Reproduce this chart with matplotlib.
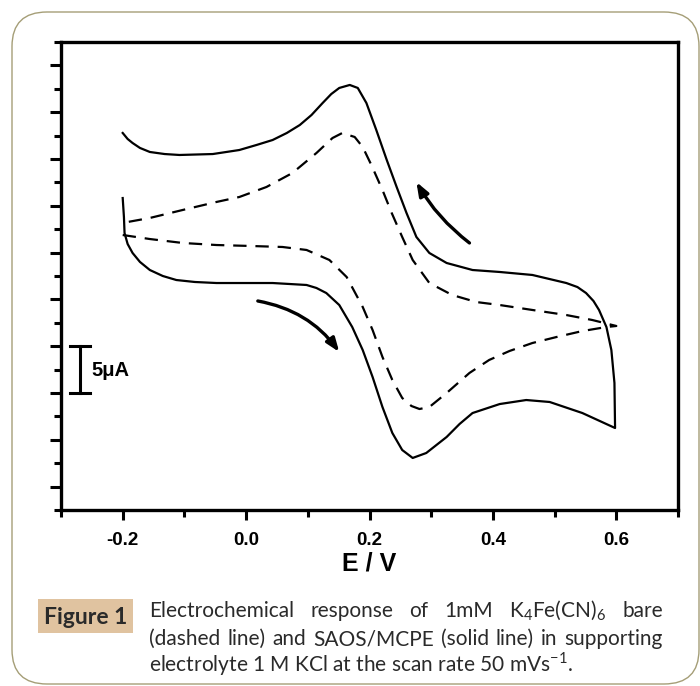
import matplotlib
matplotlib.use('Agg')
import matplotlib.pyplot as plt
from matplotlib.patches import FancyBboxPatch, FancyArrowPatch, Rectangle
from matplotlib.ticker import MultipleLocator

plt.rcParams['font.family'] = 'Liberation Sans'

# SAOS/MCPE (solid line): forward branch then reverse branch
E_solid = [-0.200, -0.198, -0.197, -0.192, -0.184, -0.172, -0.156, -0.135, -0.113, -0.083,
           -0.048, -0.011, 0.043, 0.098, 0.114, 0.130, 0.151, 0.172, 0.189, 0.205,
           0.221, 0.237, 0.253, 0.270, 0.292, 0.325, 0.346, 0.367, 0.411, 0.454,
           0.492, 0.545, 0.598,
           0.597, 0.592, 0.584, 0.572, 0.563, 0.551, 0.537, 0.519, 0.464, 0.411,
           0.367, 0.325, 0.297, 0.276, 0.260, 0.244, 0.228, 0.211, 0.195, 0.181,
           0.168, 0.151, 0.138, 0.124, 0.106, 0.087, 0.066, 0.043, 0.017, -0.011,
           -0.054, -0.108, -0.132, -0.156, -0.172, -0.184, -0.192, -0.200]
I_solid = [5.83, 3.80, 2.09, 0.92, -0.04, -1.00, -1.86, -2.50, -2.93, -3.14,
           -3.25, -3.25, -3.25, -3.46, -3.78, -4.32, -5.60, -7.95, -10.41, -13.29,
           -16.5, -19.27, -21.09, -21.94, -21.41, -19.70, -18.31, -17.14, -16.18, -15.75,
           -15.96, -17.14, -18.74,
           -13.93, -10.41, -7.95, -6.13, -5.17, -4.32, -3.68, -3.25, -2.39, -2.07,
           -1.86, -1.11, -0.04, 1.67, 4.23, 7.01, 9.89, 13.10, 15.98, 17.59,
           17.91, 17.59, 16.94, 15.98, 14.70, 13.63, 12.78, 12.03, 11.50, 10.96,
           10.53, 10.43, 10.53, 10.75, 11.18, 11.71, 12.14, 12.78]

# bare electrode (dashed line)
E_bare_fwd = [-0.200, -0.156, -0.103, -0.048, 0.006, 0.059, 0.098, 0.135, 0.163, 0.189,
              0.205, 0.221, 0.237, 0.253, 0.268, 0.281, 0.297, 0.325, 0.362, 0.394,
              0.427, 0.464, 0.503, 0.545, 0.584, 0.600]
I_bare_fwd = [1.88, 1.45, 1.03, 0.81, 0.71, 0.60, 0.28, -0.79, -2.61, -5.81,
              -8.27, -11.15, -13.61, -15.53, -16.39, -16.71, -16.5, -15.0, -12.86, -11.47,
              -10.51, -9.66, -9.02, -8.38, -7.95, -7.84]
E_bare_rev = [0.561, 0.519, 0.464, 0.411, 0.373, 0.334, 0.297, 0.270, 0.253, 0.236,
              0.221, 0.203, 0.189, 0.176, 0.156, 0.140, 0.114, 0.075, 0.033, -0.011,
              -0.048, -0.103, -0.156, -0.192]
I_bare_rev = [-7.20, -6.67, -6.13, -5.60, -5.28, -4.53, -3.25, -0.79, 1.67, 4.23,
              6.69, 9.36, 11.28, 12.35, 12.78, 12.24, 10.64, 8.50, 7.01, 5.94,
              5.41, 4.55, 3.70, 3.27]

# scan direction arrows (tail, head)
arrow_fwd = ((0.019, -5.17), (0.151, -10.62))
arrow_rev = ((0.362, 1.03), (0.276, 7.54))

xticks = [-0.2, 0.0, 0.2, 0.4, 0.6]
xticklabels = ['-0.2', '0.0', '0.2', '0.4', '0.6']

caption1 = ['Electrochemical', 'response', 'of', '1mM',
            r'K$_\mathregular{4}$Fe(CN)$_\mathregular{6}$', 'bare']
caption2 = ['(dashed', 'line)', 'and', 'SAOS/MCPE', '(solid', 'line)', 'in', 'supporting']
caption3 = r'electrolyte 1 M KCl at the scan rate 50 mVs$^\mathregular{-1}$.'

fig = plt.figure(figsize=(7, 6.86), dpi=100)

# rounded frame round the whole figure
frame = FancyBboxPatch((12/700, 2/686), 687/700, 672/686,
                       boxstyle='round,pad=0,rounding_size=0.05',
                       transform=fig.transFigure, fc='none', ec='#a59e77', lw=1.0)
fig.patches.append(frame)

ax = fig.add_axes([61/700, 1 - 510/686, 617/700, 468/686])
ax.plot(E_solid, I_solid, color='black', lw=1.6, solid_joinstyle='round')
ax.plot(E_bare_fwd + E_bare_rev, I_bare_fwd + I_bare_rev, color='black', lw=1.6,
        dashes=(6, 4))

for tail, head, rad in [(arrow_fwd[0], arrow_fwd[1], -0.2), (arrow_rev[0], arrow_rev[1], -0.1)]:
    ax.add_patch(FancyArrowPatch(tail, head, connectionstyle=f'arc3,rad={rad}',
                                 arrowstyle='-|>,head_length=0.8,head_width=0.3',
                                 mutation_scale=10, color='black', lw=2.4,
                                 shrinkA=0, shrinkB=0))

# 5 uA scale bar
ax.plot([-0.270, -0.270], [-15, -10], color='black', lw=2.2)
ax.plot([-0.286, -0.253], [-10, -10], color='black', lw=2.2)
ax.plot([-0.286, -0.253], [-15, -15], color='black', lw=2.2)
ax.text(-0.250, -12.6, '5μA', fontsize=14.5, fontweight='bold', va='center', ha='left')

ax.set_xlim(-0.3, 0.7)
ax.set_ylim(-27.5, 22.5)
ax.set_xticks(xticks)
ax.set_xticklabels(xticklabels, fontsize=13.5, fontweight='bold')
ax.xaxis.set_minor_locator(MultipleLocator(0.1))
ax.yaxis.set_major_locator(MultipleLocator(5))
ax.yaxis.set_minor_locator(MultipleLocator(2.5))
ax.set_yticklabels([])
ax.tick_params(which='major', axis='y', direction='out', length=8, width=2.2)
ax.tick_params(which='minor', axis='y', direction='out', length=5, width=2.2)
ax.tick_params(which='major', axis='x', direction='out', length=7, width=2.2, pad=8.5)
ax.tick_params(which='minor', axis='x', direction='out', length=5, width=2.2)
for s in ax.spines.values():
    s.set_linewidth(2.4)
ax.set_xlabel('E / V', fontsize=18, fontweight='bold', labelpad=2)

# caption
fig.patches.append(Rectangle((38/700, 1 - 633/686), 95/700, 34/686,
                             transform=fig.transFigure, fc='#e0c3a0', ec='none'))
fig.text(85.5/700, 1 - 617/686, 'Figure 1', fontsize=16.5, fontweight='bold',
         family='Lato', color='#2a2a2a', ha='center', va='center')

cap_kw = dict(fontsize=15, family='Lato', color='#2a2a2a', va='baseline')


def justify(words, y, x0, x1):
    r = fig.canvas.get_renderer()
    texts = [fig.text(0, y, w, **cap_kw) for w in words]
    widths = [t.get_window_extent(r).width for t in texts]
    W = fig.bbox.width
    gap = ((x1 - x0) * W - sum(widths)) / (len(words) - 1)
    x = x0 * W
    for t, w in zip(texts, widths):
        t.set_x(x / W)
        x += w + gap


justify(caption1, 1 - 617/686, 149/700, 663/700)
justify(caption2, 1 - 645/686, 149/700, 663/700)
fig.text(149/700, 1 - 672/686, caption3, **cap_kw)

fig.savefig('out.png', dpi=100)
